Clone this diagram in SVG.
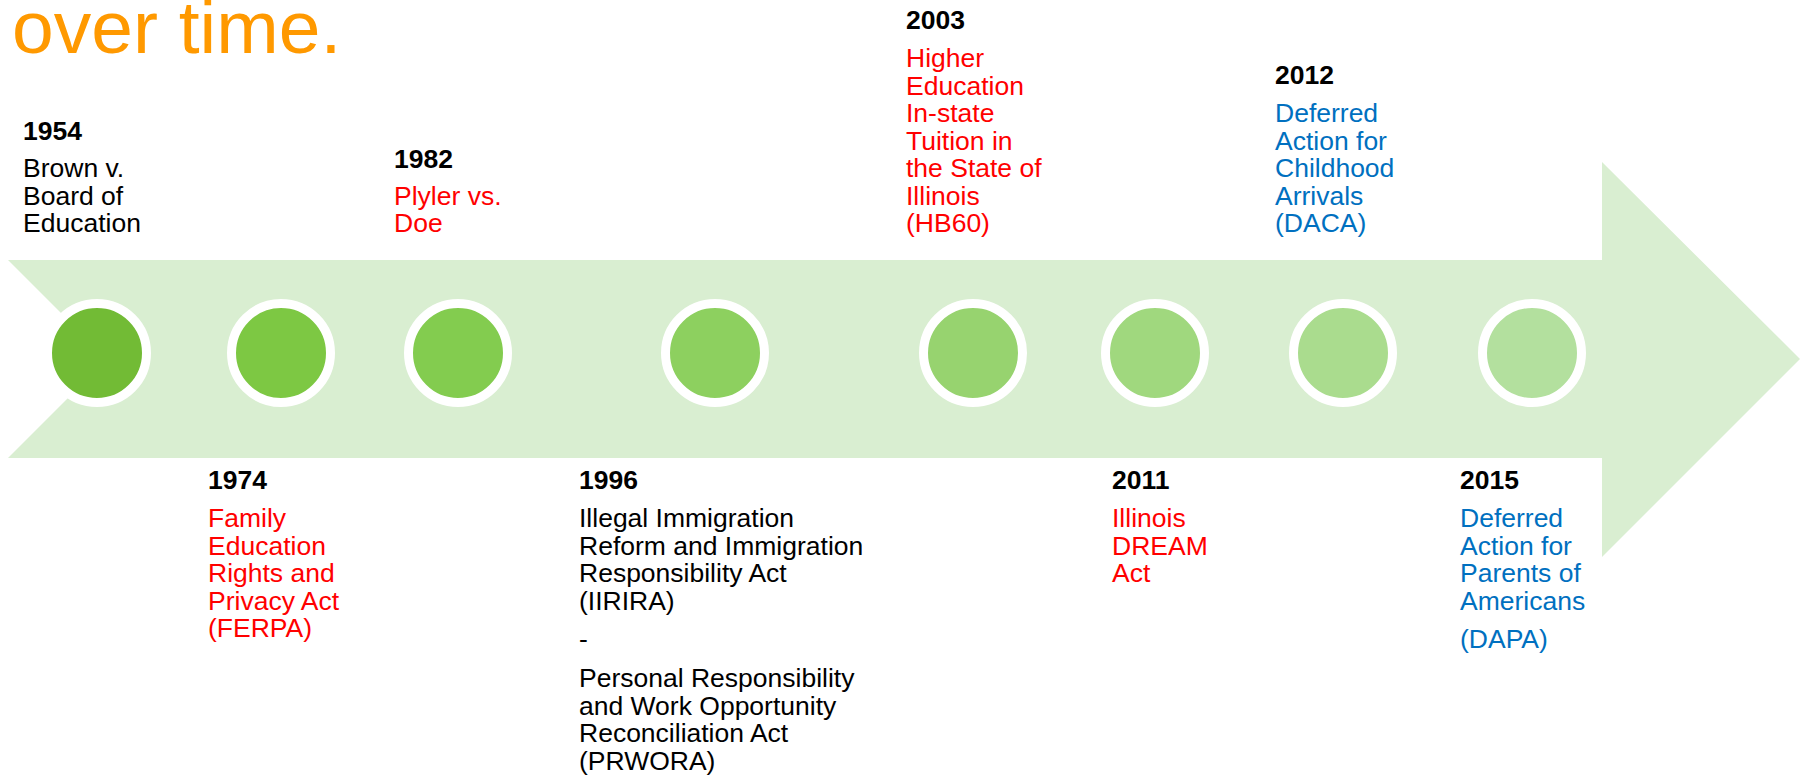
<svg xmlns="http://www.w3.org/2000/svg" width="1806" height="775" viewBox="0 0 1806 775">
<style>
text{font-family:"Liberation Sans",Arial,sans-serif;font-size:26.5px}
.yr{font-weight:bold;fill:#000}
.blk{fill:#000}
.red{fill:#FF0000}
.blue{fill:#0070C0}
.dot{stroke:#FFFFFF;stroke-width:9}
</style>
<rect width="1806" height="775" fill="#FFFFFF"/>
<text x="12" y="53" style="font-size:75px;fill:#FF9900">over time.</text>
<g id="connectors">
<path d="M8,260 L1602,260 L1602,162 L1800,359 L1602,557 L1602,458 L8,458 L107,359 Z" fill="#D9EED1"/>
</g>
<g id="n1954">
<circle class="dot" cx="97" cy="353" r="49.5" fill="#72BB35"/>
<text class="yr" x="23" y="140">1954</text>
<text class="blk" x="23" y="177">Brown v.</text>
<text class="blk" x="23" y="204.5">Board of</text>
<text class="blk" x="23" y="232">Education</text>
</g>
<g id="n1974">
<circle class="dot" cx="281" cy="353" r="49.5" fill="#7DC843"/>
<text class="yr" x="208" y="489">1974</text>
<text class="red" x="208" y="527">Family</text>
<text class="red" x="208" y="554.5">Education</text>
<text class="red" x="208" y="582">Rights and</text>
<text class="red" x="208" y="609.5">Privacy Act</text>
<text class="red" x="208" y="637">(FERPA)</text>
</g>
<g id="n1982">
<circle class="dot" cx="458" cy="353" r="49.5" fill="#83CC4F"/>
<text class="yr" x="394" y="168">1982</text>
<text class="red" x="394" y="205">Plyler vs.</text>
<text class="red" x="394" y="232">Doe</text>
</g>
<g id="n1996">
<circle class="dot" cx="715" cy="353" r="49.5" fill="#8DD05F"/>
<text class="yr" x="579" y="489">1996</text>
<text class="blk" x="579" y="527">Illegal Immigration</text>
<text class="blk" x="579" y="554.5">Reform and Immigration</text>
<text class="blk" x="579" y="582">Responsibility Act</text>
<text class="blk" x="579" y="609.5">(IIRIRA)</text>
<text class="blk" x="579" y="648">-</text>
<text class="blk" x="579" y="687">Personal Responsibility</text>
<text class="blk" x="579" y="714.5">and Work Opportunity</text>
<text class="blk" x="579" y="742">Reconciliation Act</text>
<text class="blk" x="579" y="769.5">(PRWORA)</text>
</g>
<g id="n2003">
<circle class="dot" cx="973" cy="353" r="49.5" fill="#97D36F"/>
<text class="yr" x="906" y="29">2003</text>
<text class="red" x="906" y="67">Higher</text>
<text class="red" x="906" y="94.5">Education</text>
<text class="red" x="906" y="122">In-state</text>
<text class="red" x="906" y="149.5">Tuition in</text>
<text class="red" x="906" y="177">the State of</text>
<text class="red" x="906" y="204.5">Illinois</text>
<text class="red" x="906" y="232">(HB60)</text>
</g>
<g id="n2011">
<circle class="dot" cx="1155" cy="353" r="49.5" fill="#A0D87E"/>
<text class="yr" x="1112" y="489">2011</text>
<text class="red" x="1112" y="527">Illinois</text>
<text class="red" x="1112" y="554.5">DREAM</text>
<text class="red" x="1112" y="582">Act</text>
</g>
<g id="n2012">
<circle class="dot" cx="1343" cy="353" r="49.5" fill="#AADC8E"/>
<text class="yr" x="1275" y="84">2012</text>
<text class="blue" x="1275" y="122">Deferred</text>
<text class="blue" x="1275" y="149.5">Action for</text>
<text class="blue" x="1275" y="177">Childhood</text>
<text class="blue" x="1275" y="204.5">Arrivals</text>
<text class="blue" x="1275" y="232">(DACA)</text>
</g>
<g id="n2015">
<circle class="dot" cx="1532" cy="353" r="49.5" fill="#B3E09E"/>
<text class="yr" x="1460" y="489">2015</text>
<text class="blue" x="1460" y="527">Deferred</text>
<text class="blue" x="1460" y="554.5">Action for</text>
<text class="blue" x="1460" y="582">Parents of</text>
<text class="blue" x="1460" y="609.5">Americans</text>
<text class="blue" x="1460" y="648">(DAPA)</text>
</g>
</svg>
